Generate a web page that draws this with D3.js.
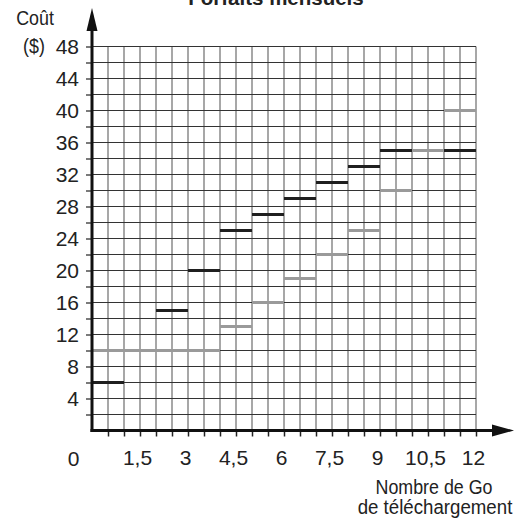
<!DOCTYPE html>
<html>
<head>
<meta charset="utf-8">
<script src="https://cdn.jsdelivr.net/npm/d3@7"></script>
<style>
  html, body { margin: 0; padding: 0; background: #fff; }
  svg { display: block; }
  text { font-family: "Liberation Sans", Arial, Helvetica, sans-serif; fill: #222; }
</style>
</head>
<body>
<svg id="chart" width="529" height="518"></svg>
<script>
// Monthly plans: cost ($) by downloaded GB, two step functions
const title = "Forfaits mensuels";
const xLabelLines = ["Nombre de Go", "de téléchargement"];
const yLabelLines = ["Coût", "($)"];

// Plan A (black): [from GB, to GB, cost]
const planAStart = [0, 1, 2, 3, 4, 5, 6, 7, 8, 9, 10, 11];
const planAEnd   = [1, 2, 3, 4, 5, 6, 7, 8, 9, 10, 11, 12];
const planACost  = [6, 10, 15, 20, 25, 27, 29, 31, 33, 35, 35, 35];

// Plan B (grey)
const planBStart = [0, 4, 5, 6, 7, 8, 9, 10, 11];
const planBEnd   = [4, 5, 6, 7, 8, 9, 10, 11, 12];
const planBCost  = [10, 13, 16, 19, 22, 25, 30, 35, 40];

const xTickLabels = [1.5, 3, 4.5, 6, 7.5, 9, 10.5, 12];
const yTickLabels = [4, 8, 12, 16, 20, 24, 28, 32, 36, 40, 44, 48];

const svg = d3.select("#chart");
const x = d3.scaleLinear().domain([0, 12]).range([92, 476]);
const y = d3.scaleLinear().domain([0, 48]).range([430.5, 46.5]);

const xMinor = d3.range(0.5, 12.01, 0.5);
const yMinor = d3.range(2, 48.01, 2);
const fmt = v => String(v).replace(".", ",");
const FS = 21;

// narrow word labels: regular face squeezed horizontally
function narrowText(px, py, str, anchor = "middle", squeeze = 0.85) {
  svg.append("g").attr("transform", `translate(${px},${py}) scale(${squeeze},1)`)
    .append("text").attr("text-anchor", anchor).attr("font-size", FS).text(str);
}

// grid: vertical lines grey, horizontal lines dark
svg.append("g").selectAll("line").data(xMinor).join("line")
  .attr("x1", d => x(d)).attr("x2", d => x(d))
  .attr("y1", y(0)).attr("y2", y(48))
  .attr("stroke", "#8a8a8a").attr("stroke-width", 1.5);
svg.append("g").selectAll("line").data(yMinor).join("line")
  .attr("x1", x(0)).attr("x2", x(12))
  .attr("y1", d => y(d)).attr("y2", d => y(d))
  .attr("stroke", "#333").attr("stroke-width", 1);

// y axis ticks and labels
const yAxis = svg.append("g").attr("transform", `translate(${x(0)},0)`)
  .call(d3.axisLeft(y).tickValues(yMinor).tickSize(6).tickPadding(7)
    .tickFormat(d => yTickLabels.includes(d) ? fmt(d) : ""));
yAxis.select(".domain").remove();
yAxis.selectAll(".tick line").attr("stroke", "#222").attr("stroke-width", 1.2);
yAxis.selectAll("text").attr("font-size", FS).attr("fill", "#222")
  .attr("font-family", "Liberation Sans, Arial, sans-serif");

// x axis ticks and labels
const xAxis = svg.append("g").attr("transform", `translate(0,${y(0)})`)
  .call(d3.axisBottom(x).tickValues(xMinor).tickSize(6).tickPadding(14)
    .tickFormat(d => xTickLabels.includes(d) ? fmt(d) : ""));
xAxis.select(".domain").remove();
xAxis.selectAll(".tick line").attr("stroke", "#222").attr("stroke-width", 1.5);
xAxis.selectAll("text").attr("font-size", FS).attr("fill", "#222").attr("dx", -3)
  .attr("font-family", "Liberation Sans, Arial, sans-serif");

// origin label
svg.append("text").attr("x", x(0) - 18.5).attr("y", 466)
  .attr("text-anchor", "middle").attr("font-size", FS).text(fmt(0));

// step segments
const segA = planAStart.map((s, i) => ({ s, e: planAEnd[i], c: planACost[i] }));
const segB = planBStart.map((s, i) => ({ s, e: planBEnd[i], c: planBCost[i] }));
svg.append("g").selectAll("line").data(segA).join("line")
  .attr("x1", d => x(d.s)).attr("x2", d => x(d.e))
  .attr("y1", d => y(d.c)).attr("y2", d => y(d.c))
  .attr("stroke", "#1f1f1f").attr("stroke-width", 3);
svg.append("g").selectAll("line").data(segB).join("line")
  .attr("x1", d => x(d.s)).attr("x2", d => x(d.e))
  .attr("y1", d => y(d.c)).attr("y2", d => y(d.c))
  .attr("stroke", "#9a9a9a").attr("stroke-width", 3);

// main axes with arrow heads
svg.append("line").attr("x1", x(0)).attr("x2", x(0)).attr("y1", y(0) + 1.5).attr("y2", 28)
  .attr("stroke", "#111").attr("stroke-width", 3);
svg.append("path").attr("d", `M${x(0)},8 L${x(0) - 5.5},31 L${x(0) + 5.5},31 Z`).attr("fill", "#111");
svg.append("line").attr("x1", x(0) - 1.5).attr("x2", 495).attr("y1", y(0)).attr("y2", y(0))
  .attr("stroke", "#111").attr("stroke-width", 3);
svg.append("path").attr("d", `M514,${y(0)} L492,${y(0) - 6} L492,${y(0) + 6} Z`).attr("fill", "#111");

// title, running off the top edge
svg.append("text").attr("x", 276).attr("y", 5).attr("text-anchor", "middle")
  .attr("font-size", 20.5).attr("font-weight", "bold").text(title);

// axis titles
narrowText(35, 25, yLabelLines[0]);
narrowText(34, 53, yLabelLines[1]);
narrowText(434, 494, xLabelLines[0]);
narrowText(435, 514, xLabelLines[1], "middle", 0.89);
</script>
</body>
</html>
